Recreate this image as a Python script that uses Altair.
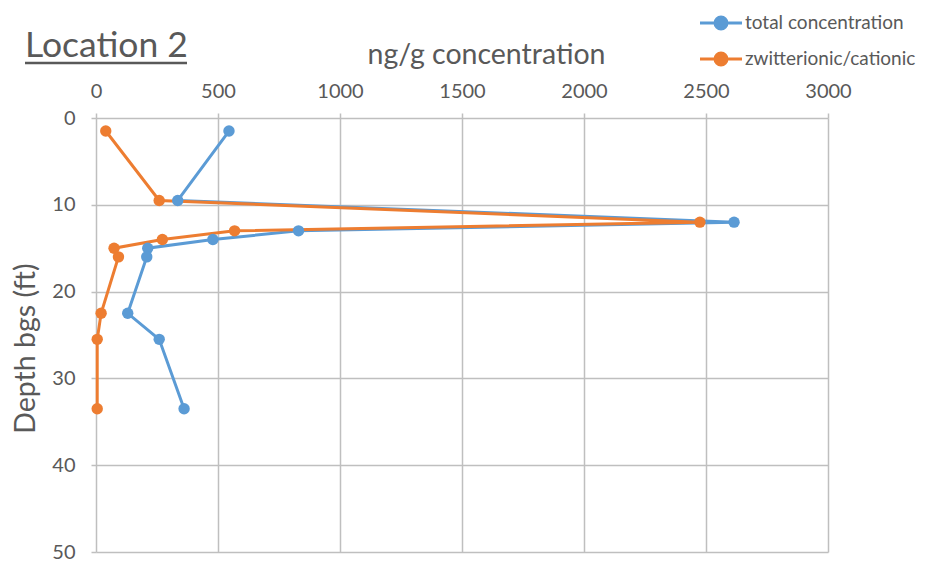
import altair as alt
import pandas as pd

depth = [1.5, 9.5, 12, 13, 14, 15, 16, 22.5, 25.5, 33.5]
total = [545, 335, 2615, 830, 479, 212, 208, 130, 259, 361]
zwit = [40, 259, 2475, 568, 272, 74, 92, 21, 5, 5]
series = ["total concentration", "zwitterionic/cationic"]
colors = ["#5B9BD5", "#ED7D31"]
x_ticks = [0, 500, 1000, 1500, 2000, 2500, 3000]
y_ticks = [0, 10, 20, 30, 40, 50]

rows = []
for i, d in enumerate(depth):
    rows.append({"series": series[0], "depth": d, "conc": total[i], "idx": i})
for i, d in enumerate(depth):
    rows.append({"series": series[1], "depth": d, "conc": zwit[i], "idx": i})
df = pd.DataFrame(rows)

FONT = "Lato"
GRAY = "#595959"
GRID = "#BFBFBF"

# legend symbol: line with a dot (path units = sqrt(size)/2 px)
sym = "M-2,0L2,0M-0.57,0A0.57,0.57,0,1,1,0.57,0A0.57,0.57,0,1,1,-0.57,0Z"

base = alt.Chart(df)

lines = base.mark_line(strokeWidth=3, point=alt.OverlayMarkDef(filled=True, size=130, opacity=1)).encode(
    x=alt.X("conc:Q",
            scale=alt.Scale(domain=[0, 3000], nice=False),
            axis=alt.Axis(orient="top", values=x_ticks, format="d", title="ng/g concentration",
                          titleFontSize=28.5, titleFont=FONT, titleFontWeight="normal",
                          titleColor=GRAY, titleX=390, titleY=-55, titleBaseline="alphabetic",
                          labelFontSize=20, labelFont=FONT, labelColor=GRAY, labelFlush=False,
                          labelBaseline="alphabetic", labelPadding=16,
                          tickSize=5, tickColor=GRID, tickWidth=1.5,
                          domain=False, grid=True, gridColor=GRID, gridWidth=1.5)),
    y=alt.Y("depth:Q",
            scale=alt.Scale(domain=[0, 50], reverse=True, nice=False),
            axis=alt.Axis(values=y_ticks, title="Depth bgs (ft)",
                          titleFontSize=28.5, titleFont=FONT, titleFontWeight="normal",
                          titleColor=GRAY, titleX=-62, titleY=230, titleAngle=-90,
                          titleBaseline="alphabetic", titleAlign="center",
                          labelFontSize=20, labelFont=FONT, labelColor=GRAY, labelFlush=False,
                          labelPadding=16, tickSize=5, tickColor=GRID, tickWidth=1.5,
                          domain=False, grid=True, gridColor=GRID, gridWidth=1.5)),
    color=alt.Color("series:N",
                    scale=alt.Scale(domain=series, range=colors),
                    legend=alt.Legend(title=None, orient="none", legendX=613, legendY=-107,
                                      symbolType=sym, symbolSize=441, symbolStrokeWidth=3,
                                      labelFont=FONT, labelFontSize=19, labelColor=GRAY,
                                      labelLimit=0, rowPadding=12, labelOffset=12)),
    order=alt.Order("idx:Q"),
    detail="series:N",
)

title_df = pd.DataFrame({"t": ["Location 2"]})
title = alt.Chart(title_df).mark_text(font=FONT, fontSize=35.5, color=GRAY, align="left",
                                      baseline="alphabetic").encode(
    text="t:N", x=alt.value(-71), y=alt.value(-61))
underline = alt.Chart(title_df).mark_rule(color=GRAY, strokeWidth=2.5).encode(
    x=alt.value(-71), x2=alt.value(91), y=alt.value(-55))

chart = alt.layer(lines, title, underline).properties(
    width=732, height=434,
    autosize=alt.AutoSizeParams(type="none"),
    padding={"left": 88, "top": 110, "right": 94, "bottom": 10},
).configure_view(stroke=None)

chart.save("out.html", embed_options={"renderer": "svg", "actions": False})
